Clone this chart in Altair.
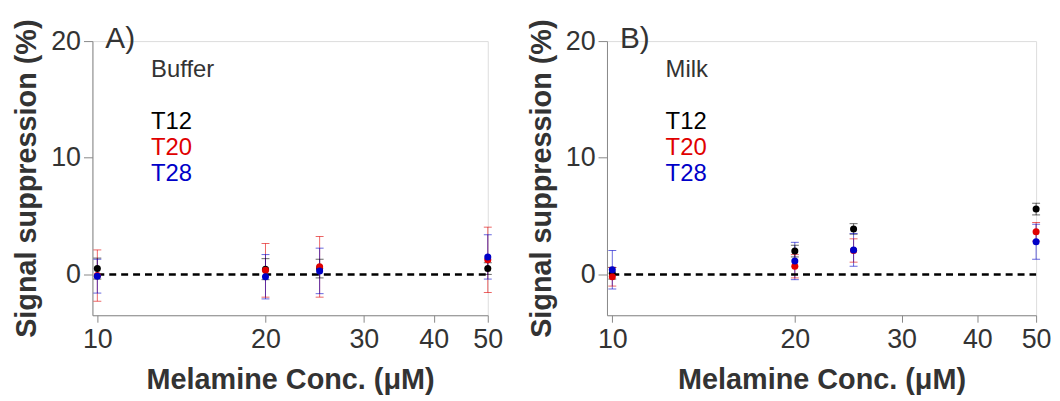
import altair as alt
import pandas as pd

conc = [10, 20, 25, 50]
series = ["T12", "T20", "T28"]
colors = ["#000000", "#e00000", "#0000c8"]

A_T12 = [0.5, 0.45, 0.5, 0.5]
A_T12_err = [0.9, 0.9, 0.8, 0.5]
A_T20 = [-0.1, 0.35, 0.65, 1.25]
A_T20_err = [2.2, 2.3, 2.6, 2.8]
A_T28 = [-0.15, -0.2, 0.3, 1.5]
A_T28_err = [1.45, 1.9, 1.95, 1.9]

B_T12 = [0.1, 2.0, 3.9, 5.6]
B_T12_err = [0.5, 0.5, 0.45, 0.5]
B_T20 = [-0.2, 0.7, 2.05, 3.65]
B_T20_err = [0.8, 1.0, 1.0, 0.8]
B_T28 = [0.4, 1.15, 2.1, 2.8]
B_T28_err = [1.65, 1.6, 1.4, 1.5]

x_ticks = [10, 20, 30, 40, 50]
y_ticks = [0, 10, 20]

panels = {
    "A": {"label": "A)", "medium": "Buffer",
          "vals": [A_T12, A_T20, A_T28], "errs": [A_T12_err, A_T20_err, A_T28_err]},
    "B": {"label": "B)", "medium": "Milk",
          "vals": [B_T12, B_T20, B_T28], "errs": [B_T12_err, B_T20_err, B_T28_err]},
}

FONT = "Liberation Sans"
TXT = "#333333"


def panel_chart(key, width):
    p = panels[key]
    rows = []
    for si, s in enumerate(series):
        for c, v, e in zip(conc, p["vals"][si], p["errs"][si]):
            rows.append({"conc": c, "series": s, "order": si, "mean": v,
                         "lo": v - e, "hi": v + e})
    df = pd.DataFrame(rows)

    xs = alt.Scale(type="log", domain=[9.8, 50], nice=False)
    ys = alt.Scale(domain=[-3.5, 20], nice=False, zero=False)
    cs = alt.Scale(domain=series, range=colors)

    xaxis = alt.Axis(values=x_ticks, title="Melamine Conc. (μM)", grid=False,
                     labelFontSize=27, labelColor=TXT, labelFont=FONT,
                     titleFontSize=29, titleFont=FONT, titleFontWeight="bold",
                     titleColor=TXT, titlePadding=14,
                     domainColor="#888888", tickColor="#888888", tickSize=7,
                     labelPadding=4, format="d", labelFlush=False)
    yaxis = alt.Axis(values=y_ticks, title="Signal suppression (%)", grid=False,
                     labelFontSize=27, labelColor=TXT, labelFont=FONT,
                     titleFontSize=29, titleFont=FONT, titleFontWeight="bold",
                     titleColor=TXT, titlePadding=9,
                     domainColor="#888888", tickColor="#888888", tickSize=9,
                     labelPadding=3, labelFlush=False)

    base = alt.Chart(df)
    rules = base.mark_rule(strokeWidth=1, opacity=0.6).encode(
        x=alt.X("conc:Q", scale=xs, axis=xaxis),
        y=alt.Y("lo:Q", scale=ys, axis=yaxis),
        y2="hi:Q",
        color=alt.Color("series:N", scale=cs, legend=None),
        order="order:Q",
    )
    cap_lo = base.mark_tick(orient="horizontal", size=8, thickness=1, opacity=0.6).encode(
        x=alt.X("conc:Q", scale=xs), y=alt.Y("lo:Q", scale=ys),
        color=alt.Color("series:N", scale=cs, legend=None))
    cap_hi = base.mark_tick(orient="horizontal", size=8, thickness=1, opacity=0.6).encode(
        x=alt.X("conc:Q", scale=xs), y=alt.Y("hi:Q", scale=ys),
        color=alt.Color("series:N", scale=cs, legend=None))

    zero = alt.Chart(pd.DataFrame({"x1": [10], "x2": [50], "y": [0]})).mark_rule(
        color="black", strokeWidth=2.5, strokeDash=[7, 5]).encode(
        x=alt.X("x1:Q", scale=xs), x2="x2:Q", y=alt.Y("y:Q", scale=ys))

    points = base.mark_circle(size=50, opacity=1).encode(
        x=alt.X("conc:Q", scale=xs), y=alt.Y("mean:Q", scale=ys),
        color=alt.Color("series:N", scale=cs, legend=None),
        order="order:Q")

    lab = alt.Chart(pd.DataFrame({"t": [p["label"]]})).mark_text(
        align="left", baseline="middle", fontSize=30, font=FONT, color=TXT).encode(
        text="t:N", x=alt.value(13), y=alt.value(-2))
    med = alt.Chart(pd.DataFrame({"t": [p["medium"]]})).mark_text(
        align="left", baseline="middle", fontSize=24, font=FONT, color=TXT).encode(
        text="t:N", x=alt.value(59), y=alt.value(29))
    leg_df = pd.DataFrame({"t": series, "dy": [82, 108, 134]})
    leg = alt.Chart(leg_df).mark_text(
        align="left", baseline="middle", fontSize=24, font=FONT).encode(
        text="t:N", x=alt.value(59), y=alt.Y("dy:Q", scale=None),
        color=alt.Color("t:N", scale=cs, legend=None))

    return alt.layer(rules, cap_lo, cap_hi, zero, points, lab, med, leg).properties(
        width=width, height=276)


chart = alt.hconcat(panel_chart("A", 398), panel_chart("B", 432), spacing=23).properties(
    padding={"left": 4, "top": 9, "right": 0, "bottom": 0}
).configure_view(stroke=None).configure(background="white")

chart.save("out.html", embed_options={"renderer": "svg", "actions": False})
